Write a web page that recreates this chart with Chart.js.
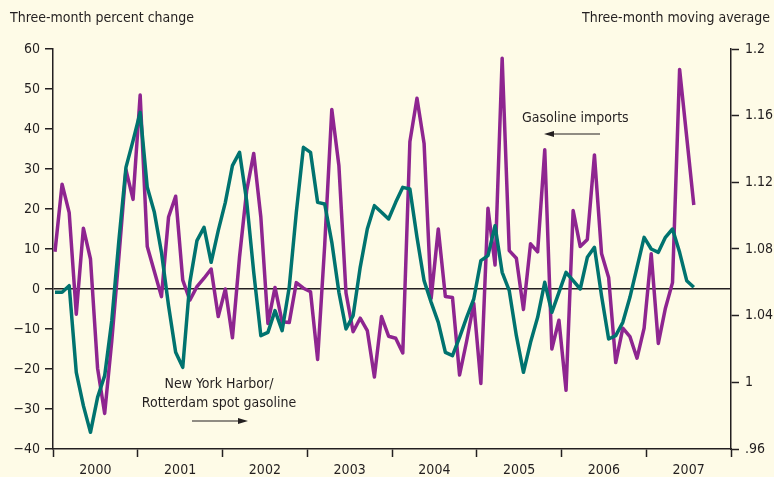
<!DOCTYPE html>
<html>
<head>
<meta charset="utf-8">
<script src="https://cdn.jsdelivr.net/npm/chart.js@4.4.1/dist/chart.umd.min.js"></script>
<style>
  html, body { margin: 0; padding: 0; background: #fefbe7; }
  #wrap { width: 774px; height: 477px; position: relative; }
</style>
</head>
<body>
<div id="wrap"><canvas id="chart" width="774" height="477"></canvas></div>
<script>
// Chart data, monthly from Jan 2000
const years = ["2000", "2001", "2002", "2003", "2004", "2005", "2006", "2007"];

// Gasoline imports, three-month percent change (left axis)
const importsChange = [
  9.3, 26.2, 19.1, -6.3, 15.2, 7.5, -19.8, -31.1, -13, 8, 29.8, 22.4,
  48.5, 10.6, 4.4, -1.9, 18, 23.2, 2.2, -2.8, 0.6, 2.7, 5, -6.9,
  0, -12.2, 8, 24.5, 33.9, 18, -8.6, 0.4, -8.2, -8.4, 1.6, 0.2,
  -0.7, -17.6, 11, 44.9, 30.8, -1, -10.7, -7.3, -10.4, -22, -6.9, -11.8,
  -12.3, -16, 36.8, 47.7, 36.4, -2.3, 15, -1.9, -2.1, -21.5, -13, -3.6,
  -23.6, 20.2, 6, 57.7, 9.6, 7.7, -5.1, 11.3, 9.3, 34.8, -15, -7.8,
  -25.3, 19.6, 10.6, 12.4, 33.5, 8.9, 2.9, -18.4, -9.8, -11.9, -17.3, -9.8,
  8.8, -13.6, -4.8, 1.6, 54.9, 38, 21
];

// New York Harbor / Rotterdam spot gasoline, three-month moving average (right axis)
const spotRatio = [
  1.054, 1.054, 1.058, 1.006, 0.986, 0.970, 0.991, 1.004, 1.037, 1.085, 1.129, 1.145,
  1.162, 1.117, 1.102, 1.078, 1.046, 1.018, 1.009, 1.060, 1.085, 1.093, 1.072, 1.091,
  1.108, 1.130, 1.138, 1.109, 1.066, 1.028, 1.030, 1.043, 1.031, 1.057, 1.102, 1.141,
  1.138, 1.108, 1.107, 1.084, 1.054, 1.032, 1.040, 1.069, 1.092, 1.106, 1.102, 1.098,
  1.108, 1.117, 1.116, 1.087, 1.061, 1.048, 1.036, 1.018, 1.016, 1.027, 1.039, 1.050,
  1.073, 1.076, 1.094, 1.066, 1.055, 1.028, 1.006, 1.024, 1.039, 1.060, 1.042, 1.054,
  1.066, 1.061, 1.056, 1.075, 1.081, 1.052, 1.026, 1.028, 1.036, 1.051, 1.069, 1.087,
  1.080, 1.078, 1.087, 1.092, 1.078, 1.061, 1.057
];

const leftTicks = [-40, -30, -20, -10, 0, 10, 20, 30, 40, 50, 60];
const rightTicks = [0.96, 1, 1.04, 1.08, 1.12, 1.16, 1.2];
const rightTickLabels = [".96", "1", "1.04", "1.08", "1.12", "1.16", "1.2"];

const FONT = '"DejaVu Sans Condensed", "Liberation Sans Narrow", sans-serif';
const FONT_SIZE = 14;
const INK = "#231f20";
const PURPLE = "#8e2590";
const TEAL = "#00736f";

// months per year span on the x axis, and where Jan 2000 boundary sits
const YEAR_SPAN = 11.94;
const X_START = -0.28;
const X_END = X_START + years.length * YEAR_SPAN;

function toPoints(arr) {
  return arr.map((v, i) => ({ x: i, y: v }));
}

// Titles, notes and arrows
const notesPlugin = {
  id: "notes",
  afterDraw(chart) {
    const ctx = chart.ctx;
    ctx.save();
    ctx.fillStyle = INK;
    ctx.strokeStyle = INK;
    ctx.font = FONT_SIZE + "px " + FONT;
    ctx.textBaseline = "middle";

    ctx.textAlign = "left";
    ctx.fillText("Three-month percent change", 10, 18);
    ctx.textAlign = "right";
    ctx.fillText("Three-month moving average", 770, 18);

    ctx.textAlign = "left";
    ctx.fillText("Gasoline imports", 522, 118);
    ctx.textAlign = "center";
    ctx.fillText("New York Harbor/", 219, 384);
    ctx.fillText("Rotterdam spot gasoline", 219, 403);

    drawArrow(ctx, 600, 134, 544, 134);
    drawArrow(ctx, 192, 421, 248, 421);
    ctx.restore();
  }
};

function drawArrow(ctx, x1, y1, x2, y2) {
  const dir = Math.sign(x2 - x1);
  ctx.lineWidth = 1.2;
  ctx.beginPath();
  ctx.moveTo(x1, y1);
  ctx.lineTo(x2 - dir * 6, y2);
  ctx.stroke();
  ctx.beginPath();
  ctx.moveTo(x2, y2);
  ctx.lineTo(x2 - dir * 10, y2 - 3);
  ctx.lineTo(x2 - dir * 10, y2 + 3);
  ctx.closePath();
  ctx.fill();
}

const ctx = document.getElementById("chart").getContext("2d");

new Chart(ctx, {
  type: "line",
  data: {
    datasets: [
      {
        label: "New York Harbor/Rotterdam spot gasoline",
        data: toPoints(spotRatio),
        yAxisID: "yRight",
        borderColor: TEAL,
        borderWidth: 3.5,
        pointRadius: 0,
        borderJoinStyle: "round",
        tension: 0,
        order: 1
      },
      {
        label: "Gasoline imports",
        data: toPoints(importsChange),
        yAxisID: "yLeft",
        borderColor: PURPLE,
        borderWidth: 3.5,
        pointRadius: 0,
        borderJoinStyle: "round",
        tension: 0,
        order: 2
      }
    ]
  },
  options: {
    responsive: false,
    animation: false,
    layout: { padding: { top: 49, left: 0, right: 0, bottom: 0 } },
    plugins: {
      legend: { display: false },
      tooltip: { enabled: false }
    },
    scales: {
      x: {
        type: "linear",
        min: X_START,
        max: X_END,
        afterBuildTicks(axis) {
          const t = [];
          for (let k = 0; k <= years.length; k++) {
            t.push({ value: X_START + k * YEAR_SPAN });
            if (k < years.length) t.push({ value: X_START + (k + 0.5) * YEAR_SPAN });
          }
          axis.ticks = t;
        },
        afterFit(axis) { axis.height = 28; },
        ticks: {
          autoSkip: false,
          maxRotation: 0,
          padding: 5,
          color: INK,
          font: { family: FONT, size: FONT_SIZE },
          callback: (v, i) => (i % 2 === 1 ? years[(i - 1) / 2] : "")
        },
        grid: {
          drawOnChartArea: false,
          tickLength: 8,
          tickWidth: 1.5,
          tickColor: (c) => (c.index % 2 === 0 ? INK : "rgba(0,0,0,0)")
        },
        border: { display: true, color: INK, width: 1.5 }
      },
      yLeft: {
        type: "linear",
        position: "left",
        min: -40,
        max: 60,
        afterBuildTicks(axis) { axis.ticks = leftTicks.map(v => ({ value: v })); },
        afterFit(axis) { axis.width = 53; },
        ticks: {
          padding: 5,
          color: INK,
          font: { family: FONT, size: FONT_SIZE },
          callback: (v) => (v < 0 ? "\u2212" + Math.abs(v) : String(v))
        },
        grid: {
          drawOnChartArea: true,
          tickLength: 8,
          tickWidth: 1.5,
          lineWidth: 1.5,
          color: (c) => (c.tick && c.tick.value === 0 ? INK : "rgba(0,0,0,0)"),
          tickColor: INK
        },
        border: { display: true, color: INK, width: 1.5 }
      },
      yRight: {
        type: "linear",
        position: "right",
        min: 0.96,
        max: 1.2,
        afterBuildTicks(axis) { axis.ticks = rightTicks.map(v => ({ value: v })); },
        afterFit(axis) { axis.width = 43; },
        ticks: {
          padding: 6,
          color: INK,
          font: { family: FONT, size: FONT_SIZE },
          callback: (v, i) => rightTickLabels[i]
        },
        grid: {
          drawOnChartArea: false,
          tickLength: 8,
          tickWidth: 1.5,
          tickColor: INK
        },
        border: { display: true, color: INK, width: 1.5 }
      }
    }
  },
  plugins: [notesPlugin]
});
</script>
</body>
</html>
